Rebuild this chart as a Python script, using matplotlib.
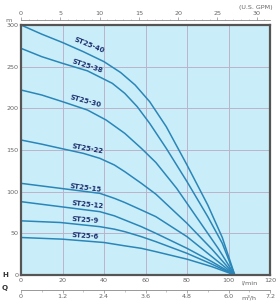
import matplotlib
matplotlib.use("Agg")
import matplotlib.pyplot as plt

# Curvas de desempenho (Q em l/min, H em m)
q_40 = [0, 10, 20, 30, 40, 48, 55, 62, 70, 80, 90, 97, 103]
h_40 = [300, 289, 279, 268, 256, 243, 228, 208, 178, 132, 84, 45, 0]
q_38 = [0, 10, 20, 32, 44, 50, 56, 62, 70, 80, 90, 97, 103]
h_38 = [272, 262, 254, 245, 230, 218, 202, 182, 152, 112, 70, 38, 0]
q_30 = [0, 10, 20, 32, 41, 50, 58, 65, 75, 85, 95, 103]
h_30 = [222, 216, 208, 198, 186, 170, 152, 135, 104, 68, 32, 0]
q_22 = [0, 10, 19, 30, 38, 45, 50, 58, 65, 80, 92, 103]
h_22 = [162, 157, 152, 146, 140, 132, 124, 110, 97, 62, 31, 0]
q_15 = [0, 19, 38, 45, 50, 58, 65, 80, 92, 103]
h_15 = [110, 104, 98, 92, 87, 78, 70, 46, 22, 0]
q_12 = [0, 19, 38, 45, 50, 58, 65, 80, 92, 103]
h_12 = [88, 82, 76, 71, 66, 58, 50, 32, 16, 0]
q_9 = [0, 19, 38, 45, 50, 58, 65, 80, 92, 103]
h_9 = [65, 63, 58, 55, 52, 46, 40, 26, 13, 0]
q_6 = [0, 20, 40, 50, 58, 65, 80, 92, 103]
h_6 = [45, 43, 39, 35, 32, 28, 19, 10, 0]

curvas = [
    ("ST25-40", q_40, h_40, 33, 276, -22),
    ("ST25-38", q_38, h_38, 32, 251, -18),
    ("ST25-30", q_30, h_30, 31, 208, -15),
    ("ST25-22", q_22, h_22, 32, 152, -10),
    ("ST25-15", q_15, h_15, 31, 105, -7),
    ("ST25-12", q_12, h_12, 32, 84, -6),
    ("ST25-9", q_9, h_9, 31, 66, -4),
    ("ST25-6", q_6, h_6, 31, 47, -4),
]

h_ticks = [0, 50, 100, 150, 200, 250, 300]
q_ticks = [0, 20, 40, 60, 80, 100, 120]
gpm_ticks = [0, 5, 10, 15, 20, 25, 30]
m3h_ticks = [0, 1.2, 2.4, 3.6, 4.8, 6.0, 7.2]

cor_linha = "#2a86b8"
cor_texto = "#666666"
cor_rotulo = "#1c2f6e"
fs = 4.6

fig = plt.figure(figsize=(2.79, 3.02), dpi=100)
ax = fig.add_axes([0.0753, 0.0894, 0.8925, 0.8278])
ax.set_facecolor("#c9eef9")

ax.set_xlim(0, 120)
ax.set_ylim(0, 300)
ax.grid(True, color="#bab3cb", linewidth=0.7)
ax.set_axisbelow(True)

for nome, q, h, lx, ly, rot in curvas:
    ax.plot(q, h, color=cor_linha, linewidth=1.1, solid_joinstyle="round")
    ax.text(lx, ly, nome, fontsize=fs + 0.4, fontweight="bold", color=cor_rotulo,
            rotation=rot, ha="center", va="center", rotation_mode="anchor")

for s in ax.spines.values():
    s.set_color("#555555")
    s.set_linewidth(1.6)

ax.set_yticks(h_ticks)
ax.set_yticklabels([str(v) for v in h_ticks])
ax.tick_params(axis="y", length=0, labelsize=fs, labelcolor=cor_texto, pad=2)

ax.set_xticks(q_ticks)
ax.set_xticklabels([str(v) for v in q_ticks])
ax.tick_params(axis="x", length=0, labelsize=fs, labelcolor=cor_texto, pad=2)
ax.text(110, -6, "l/min", fontsize=fs, color=cor_texto, ha="center", va="top")

# eixo superior em GPM
top = ax.secondary_xaxis(1.02, functions=(lambda q: q / 3.785, lambda g: g * 3.785))
top.set_xticks(gpm_ticks)
top.set_xticks([1, 2, 3, 4, 6, 7, 8, 9, 11, 12, 13, 14, 16, 17, 18, 19,
                21, 22, 23, 24, 26, 27, 28, 29, 31], minor=True)
top.tick_params(axis="x", length=2, width=0.5, color="#888888", labelsize=fs,
                labelcolor=cor_texto, pad=1)
top.tick_params(axis="x", which="minor", length=1, width=0.4, color="#999999")
top.spines["top"].set_linestyle((0, (1, 1)))
top.spines["top"].set_color("#888888")
top.spines["top"].set_linewidth(0.6)
ax.text(113, 321, "(U.S. GPM)", fontsize=fs, color=cor_texto, ha="center", va="center")

# eixo inferior em m3/h
bot = ax.secondary_xaxis(-0.06, functions=(lambda q: q * 0.06, lambda m: m / 0.06))
bot.set_xticks(m3h_ticks)
bot.set_xticklabels(["0", "1.2", "2.4", "3.6", "4.8", "6.0", "7.2"])
bot.set_xticks([0.6, 1.8, 3.0, 4.2, 5.4, 6.6], minor=True)
bot.tick_params(axis="x", length=2, width=0.5, color="#888888", labelsize=fs,
                labelcolor=cor_texto, pad=1)
bot.tick_params(axis="x", which="minor", length=1.5, width=0.4, color="#999999")
bot.spines["bottom"].set_linestyle((0, (1, 1)))
bot.spines["bottom"].set_color("#888888")
bot.spines["bottom"].set_linewidth(0.6)
ax.text(110, -24, "m³/h", fontsize=fs, color=cor_texto, ha="center", va="top")

ax.text(-7.7, 0, "H", fontsize=fs + 0.5, fontweight="bold", color="#333333",
        ha="center", va="center")
ax.text(-7.7, -15.6, "Q", fontsize=fs + 0.5, fontweight="bold", color="#333333",
        ha="center", va="center")
ax.text(-6, 303, "m", fontsize=fs, color=cor_texto, ha="center", va="bottom")

fig.savefig("out.png", dpi=100)
